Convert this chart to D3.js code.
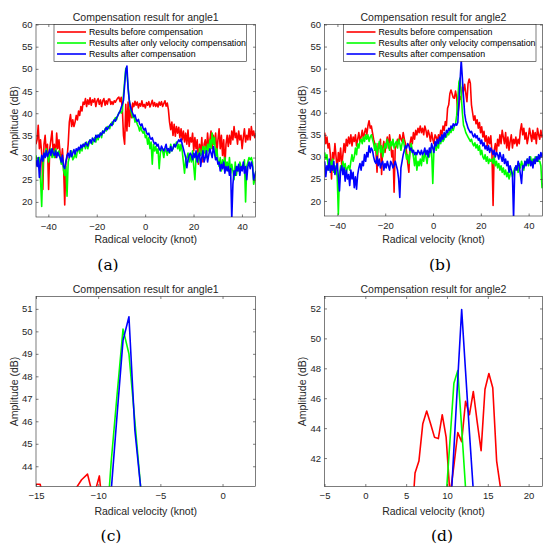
<!DOCTYPE html>
<meta charset="utf-8">
<style>
    body { margin: 0; background: #fff; }
    svg { font-family: "Liberation Sans", Arial, sans-serif; }
    .tick text { fill: #262626; font-size: 9.5px; }
    .tick line { stroke: #262626; stroke-width: 0.6; }
    .lbl { fill: #262626; font-size: 10.5px; }
    .sub { font-family: "DejaVu Serif", "Liberation Serif", serif; font-size: 15.5px; fill: #000; }
    .trace { fill: none; stroke-width: 1.6; stroke-linejoin: round; }
</style>
<svg id="chart"></svg>
<script src="https://cdn.jsdelivr.net/npm/d3@7"></script>
<script>

    // velocity grid: each row of 21 samples spans ~10 knot
    const velStep = 0.476;
    const velStartA = -45.13;   // angle1
    const velStartB = -45.32;   // angle2

    const seriesNames = ["Results before compensation",
        "Results after only velocity compensation",
        "Results after compensation"];
    const seriesColors = ["#ff0000", "#00ff00", "#0000ff"];

    // angle1 spectra (dB)
    const redA = [
        33, 34, 37.3, 32, 34, 31, 22.8, 33, 35, 31, 33, 22.8, 32, 34, 36, 31, 33, 30, 35.5, 32, 34,
        31, 29, 32, 28, 19.3, 29, 30, 33, 38, 39.7, 37, 38.5, 37, 38, 39.5, 38.5, 40.5, 39.5, 41.5, 40.5, 42.5,
        42, 43.3, 41.5, 43, 42, 43.5, 41.8, 43, 42.5, 43.3, 41.5, 42.8, 43.3, 42, 43, 41.5, 42.8, 43.3, 41.8, 42.8, 42,
        43.2, 43.2, 42.0, 42.6, 42.0, 42.8, 42.5, 43.0, 43.4, 43.65, 42.6, 43.57, 41, 35, 33, 42, 36, 42.5, 37, 42, 39,
        42.3, 41.5, 42.7, 41.8, 42.5, 41.2, 42.2, 41.6, 42.8, 41.5, 42.0, 41.2, 42.4, 41.8, 42.6, 41.4, 42.1, 42.9, 41.6, 42.4, 41.5,
        42.2, 41.4, 42.5, 41.8, 42.6, 41.5, 42.2, 42.8, 41.6, 42.3, 40.8, 38, 36.3, 38, 35, 37.5, 34.8, 37, 35.5, 36.8, 34.5,
        36.5, 34, 36, 33.5, 35.5, 33, 36.2, 32.5, 34.5, 33.5, 35.5, 31.5, 34.5, 32, 34, 28.5, 33, 31, 34.5, 29, 33,
        34, 31, 35.5, 32.5, 34, 36, 32, 35, 33, 35.5, 31, 34, 36.5, 32, 35, 30.5, 34, 28, 33, 35, 32.5,
        35, 33, 36, 34, 37, 34.5, 35.5, 33, 36, 34, 35, 32, 34.5, 36.5, 33.5, 35, 34, 36.5, 34, 37, 35,
        36, 34.5, 35.5
    ];
    const greenA = [
        30.5, 29, 28, 30, 25, 19, 28, 30.5, 31, 32, 30.5, 29, 31, 32, 30, 31.5, 30, 32, 31, 30.5, 31.5,
        30, 28.5, 30, 27, 26, 28, 21.3, 29, 30, 30.5, 31.5, 29.5, 30, 31, 30, 31.5, 32, 31, 32.5, 31.5, 33,
        33, 32, 33.5, 32, 33, 34, 33.5, 33, 34, 34.5, 33.5, 35, 34, 35, 35.5, 34.5, 36, 35.5, 36.5, 36, 37,
        37, 36.5, 37.5, 38, 37.5, 38.5, 39, 38.5, 39.5, 40, 40.5, 40, 40.5, 44.2, 47.2, 50.1, 49.0, 46.0, 43.0, 41, 40,
        39, 39.5, 38, 38.5, 37.5, 37, 36, 37, 36, 35.5, 36, 34.5, 35, 33, 34.5, 32, 33.5, 28.5, 33, 31.5, 32.5,
        31, 32, 27.5, 31, 32, 31.5, 30, 32, 31.5, 30.5, 32, 31, 33, 31.5, 32, 33, 32.5, 33.5, 32, 33, 31.5,
        33, 31.5, 29, 26.5, 29.5, 30, 31, 29, 30.5, 29, 31.5, 28, 25, 30, 31, 29, 32, 30.5, 31, 32.5, 31,
        32.5, 30, 33, 31.5, 34, 32, 35.5, 33, 34.5, 30, 32, 29.5, 28, 30, 27, 29.5, 28.5, 30, 28, 29, 27,
        30, 26.5, 28.5, 27, 25, 29, 26, 28, 27, 29, 28, 27.5, 28, 29.5, 20, 28, 29, 30, 29.5, 30, 29,
        24, 25, 27
    ];
    const blueA = [
        29.5, 28, 30, 25.5, 29, 30.5, 29.2, 31, 30, 31.5, 30.2, 31, 31.8, 30.5, 32, 31, 30.5, 31.5, 30, 31.2, 30.5,
        30, 29, 30.5, 28, 27.5, 29, 30.5, 31, 30, 31.5, 30.2, 31, 31.8, 30.8, 32, 31.5, 32.3, 31.8, 32.8, 32.2, 33,
        32.5, 33.4, 33, 32.6, 33.6, 34, 33.2, 34.4, 34, 33.6, 35, 34.5, 35.1, 34.6, 35.5, 35.1, 36, 35.6, 36.2, 36.8, 36.3,
        36.8, 37.2, 37.6, 37.2, 38.1, 38.5, 38.2, 39, 39.4, 40, 40.4, 41.3, 42.0, 42.9, 46.3, 49.6, 50.65, 45.6, 43.0, 41.5, 40.6,
        40, 39.2, 39.6, 38.6, 38.2, 38.6, 37.6, 37.2, 37.6, 36.6, 36.2, 36.6, 35.6, 35.2, 35.5, 34.5, 34.1, 34.5, 33.6, 33.1, 33.4,
        32.6, 33, 32, 31.6, 32.6, 32, 31.5, 32.2, 33, 31.5, 32, 31.2, 32.5, 31.5, 32.1, 33, 32.4, 33, 33.5, 34, 33.6,
        34.2, 33, 32, 31, 30, 27.7, 29.5, 30.5, 31, 30.5, 29.5, 31, 30, 31.5, 29, 30.5, 31, 28, 30, 31.5, 29,
        30, 31.5, 29, 30.5, 32, 31, 30, 32.5, 31, 29.5, 30, 28.5, 29, 27, 28.5, 27.5, 29, 26.5, 28, 27, 28,
        26, 27.5, 16, 24, 27, 26, 28, 27, 28.5, 26, 28, 27, 29, 26.5, 28, 25, 28, 29, 27.5, 29, 28,
        25, 26, 27
    ];

    // angle2 spectra (dB)
    const redB = [
        35.5, 33, 34.5, 32, 33, 30.5, 25, 31, 29.5, 33, 30, 27, 31, 29, 32, 28, 30.5, 33, 31, 34, 32.5,
        34.5, 33, 35, 32.5, 34.5, 33.5, 35, 32.5, 34, 35.5, 33.5, 34.5, 36, 34, 35.5, 36.5, 35, 37, 38.2, 36.5, 37,
        35.5, 34, 33, 31.5, 26.5, 33, 32, 34, 26, 32, 33.5, 31, 33, 34.5, 32, 35, 33, 30, 31.5, 22, 32,
        32.5, 34, 33, 35, 34, 33.5, 35.5, 34, 33, 31, 28.5, 26.5, 33, 34.5, 33, 35.5, 34, 36, 35, 36.5, 35.5,
        37, 35.5, 36.5, 35, 37, 36, 34.5, 36, 35, 33.5, 35.5, 34, 33, 35, 34.5, 33.5, 35, 34, 36, 35, 37,
        36, 38, 37.1, 41.0, 41.8, 44.3, 45.15, 44.3, 43.4, 43.3, 44.9, 43.4, 39.5, 41.5, 43.7, 43.1, 45.8, 44.9, 46.45, 44.4, 42.5,
        46.6, 47.65, 46.7, 41.8, 40.0, 38.3, 39.3, 37.5, 38.4, 36.5, 37.8, 35.5, 36.8, 34.5, 35.8, 33.5, 34.8, 32.5, 34.5, 33, 34.8,
        31, 19, 31.5, 33, 31, 34, 32.5, 35, 33, 36, 34.5, 33, 35.5, 32, 34.5, 31.5, 33.5, 35, 32, 34, 33,
        34.5, 32.5, 34, 33, 36, 37.5, 35, 36.5, 34, 35.5, 33, 34.5, 36.5, 35, 33.5, 36, 34, 35.5, 33, 36.5, 35,
        34, 36, 34.5, 35
    ];
    const greenB = [
        31, 29.5, 30.5, 28, 27, 29, 28, 29.5, 26.5, 28, 27, 25.5, 17, 26, 28, 27, 29, 27.5, 28.5, 26.5, 27.5,
        28, 27, 29, 30.5, 29, 30, 32, 30.5, 33, 32, 33.5, 34, 33, 34.5, 33.5, 35, 34, 35, 33.5, 34.5, 35,
        34, 33, 31.5, 33, 30.5, 32, 33.5, 31, 32.5, 30, 31.5, 33, 32, 34, 33, 31.5, 33.5, 32.5, 34, 32, 33,
        33.5, 32, 34, 33, 31.5, 33, 34, 32.5, 31, 29.5, 30.5, 28.5, 31, 33, 31.5, 30, 28, 30.5, 27, 29, 28,
        29.5, 28, 30.5, 29, 31, 30, 28.5, 31, 30, 32, 31, 24, 31.5, 33, 31.5, 33, 32, 34, 33, 34.5, 33.5,
        34, 35, 34.5, 35.5, 35, 36, 35.5, 36.5, 36, 37, 37.5, 39.4, 43.2, 47.0, 47.85, 44.0, 40.0, 37.2, 36.5, 35.5, 35,
        34.5, 34, 33.5, 34, 33, 32.5, 33.2, 32, 32.8, 31.5, 32.5, 30.5, 31.5, 30, 29.5, 30.5, 29, 30, 28.5, 29.5, 29,
        29.5, 28.5, 30, 28, 29, 27.5, 28.5, 27, 28, 26.5, 27.5, 26, 27, 25.5, 26.5, 25, 26, 27, 25.5, 26.5, 27.5,
        27, 28, 26.5, 28.5, 27.5, 29, 28, 27, 29, 28.5, 29.5, 28, 29, 30, 28.5, 29.5, 28.5, 30, 29, 30, 29,
        29, 28, 23, 24
    ];
    const blueB = [
        29, 25.5, 28, 27, 29.5, 26.5, 28, 27, 29, 26, 27.5, 28.5, 25.5, 22.3, 27, 28, 26, 27.5, 24.5, 27, 25,
        26, 23.5, 27, 25, 26.5, 23, 25.5, 22.7, 26, 27.5, 28.5, 27, 29, 28, 30.5, 29, 31, 30, 32.5, 31, 32,
        31.5, 30, 29, 28.5, 30, 28, 29.5, 27.5, 28.5, 29, 27, 28.5, 27.5, 29, 28, 27, 29, 28.5, 27.5, 28, 29,
        28, 27, 25, 20.8, 27.5, 29, 30.5, 31.5, 32.5, 32, 33, 32.5, 31.5, 32, 31, 31.5, 30.5, 31, 30.5, 31.5, 31,
        30.5, 31.5, 30.5, 31, 32, 30.5, 31.5, 30, 32, 31, 33, 32, 31, 33.5, 32.5, 34, 33, 34.5, 33.5, 35, 34,
        35.5, 34.5, 36, 35.5, 36.5, 36, 37, 36.5, 37.5, 37, 37.5, 37.2, 37.8, 42.6, 47.3, 51.93, 47.8, 43.7, 39.8, 38.2, 37.4,
        36.5, 36, 35.5, 35.8, 35, 34.5, 35.2, 34.3, 34.8, 33.8, 34.2, 33, 33.8, 32.5, 33.2, 31.8, 32.5, 31.5, 32.5, 31, 32,
        31.5, 30.5, 31.5, 30, 31, 30.5, 29.5, 31, 30, 29, 30.5, 28.5, 29.5, 28, 29, 26.5, 28, 27, 26, 16, 27,
        28, 27, 29, 28, 26, 24, 28, 27.5, 29, 28, 29.5, 28.5, 30, 28, 29, 27.5, 29.5, 28.5, 30, 29, 30.5,
        29.5, 31, 30, 31
    ];

    const ticksFullX = [-40, -20, 0, 20, 40];
    const ticksFullY = [20, 25, 30, 35, 40, 45, 50, 55, 60];
    const ticksZoomAX = [-15, -10, -5, 0];
    const ticksZoomAY = [44, 45, 46, 47, 48, 49, 50, 51];
    const ticksZoomBX = [-5, 0, 5, 10, 15, 20];
    const ticksZoomBY = [42, 44, 46, 48, 50, 52];

    const velA = d3.range(redA.length).map(i => velStartA + i * velStep);
    const velB = d3.range(redB.length).map(i => velStartB + i * velStep);

    const svg = d3.select("#chart")
        .attr("width", 550)
        .attr("height", 547);

    svg.append("rect").attr("width", 550).attr("height", 547).attr("fill", "#fff");

    function drawPanel(p) {
        const x = d3.scaleLinear().domain(p.xDom).range([p.left, p.right]);
        const y = d3.scaleLinear().domain(p.yDom).range([p.bottom, p.top]);
        const g = svg.append("g");

        g.append("clipPath").attr("id", "clip" + p.id)
            .append("rect")
            .attr("x", p.left).attr("y", p.top)
            .attr("width", p.right - p.left).attr("height", p.bottom - p.top);

        const line = d3.line()
            .x((d, i) => x(p.vel[i]))
            .y(d => y(d));

        p.series.forEach((s, k) => {
            g.append("path")
                .datum(s)
                .attr("class", "trace")
                .attr("clip-path", "url(#clip" + p.id + ")")
                .attr("stroke", seriesColors[k])
                .attr("d", line);
        });

        // axes, MATLAB style (ticks inside, box)
        g.append("g")
            .attr("transform", "translate(0," + p.bottom + ")")
            .call(d3.axisBottom(x).tickValues(p.xTicks).tickSizeInner(-2.5).tickSizeOuter(0).tickPadding(6))
            .call(a => a.select(".domain").remove());
        g.append("g")
            .attr("transform", "translate(" + p.left + ",0)")
            .call(d3.axisLeft(y).tickValues(p.yTicks).tickSizeInner(-2.5).tickSizeOuter(0).tickPadding(3.5))
            .call(a => a.select(".domain").remove());
        g.append("g")
            .attr("transform", "translate(0," + p.top + ")")
            .call(d3.axisTop(x).tickValues(p.xTicks).tickSizeInner(-2.5).tickSizeOuter(0).tickFormat(""))
            .call(a => a.select(".domain").remove());
        g.append("g")
            .attr("transform", "translate(" + p.right + ",0)")
            .call(d3.axisRight(y).tickValues(p.yTicks).tickSizeInner(-2.5).tickSizeOuter(0).tickFormat(""))
            .call(a => a.select(".domain").remove());
        g.selectAll(".tick text").attr("font-family", null).attr("font-size", null);

        g.append("rect")
            .attr("x", p.left).attr("y", p.top)
            .attr("width", p.right - p.left).attr("height", p.bottom - p.top)
            .attr("fill", "none").attr("stroke", "#262626").attr("stroke-width", 0.6);

        const cx = (p.left + p.right) / 2;
        g.append("text").attr("class", "lbl")
            .attr("x", cx).attr("y", p.top - 4)
            .attr("text-anchor", "middle")
            .text(p.title);
        g.append("text").attr("class", "lbl")
            .attr("x", cx).attr("y", p.bottom + p.xLabelOff)
            .attr("text-anchor", "middle")
            .text("Radical velocity (knot)");
        g.append("text").attr("class", "lbl")
            .attr("transform", "translate(" + (p.left - 22) + "," + ((p.top + p.bottom) / 2) + ") rotate(-90)")
            .attr("dy", "0.35em")
            .attr("text-anchor", "middle")
            .text("Amplitude (dB)");
        g.append("text").attr("class", "sub")
            .attr("x", p.subX).attr("y", p.subY)
            .attr("text-anchor", "middle")
            .text(p.sub);

        if (p.legend) {
            const lg = g.append("g").attr("transform", "translate(" + (p.left + p.legend.dx) + "," + p.top + ")");
            lg.append("rect")
                .attr("width", p.legend.w).attr("height", 37)
                .attr("fill", "#fff").attr("stroke", "#262626").attr("stroke-width", 0.6);
            seriesNames.forEach((n, k) => {
                const yy = 7.5 + k * 11;
                lg.append("line")
                    .attr("x1", 3).attr("x2", 32)
                    .attr("y1", yy).attr("y2", yy)
                    .attr("stroke", seriesColors[k]).attr("stroke-width", 1.6);
                lg.append("text")
                    .attr("x", 35).attr("y", yy).attr("dy", "0.35em")
                    .attr("font-size", "8.8px").attr("fill", "#000")
                    .text(n);
            });
        }
    }

    drawPanel({id: "a", left: 36, right: 255.5, top: 24.5, bottom: 217,
        xDom: [-45.1, 45.6], yDom: [16.6, 60], xTicks: ticksFullX, yTicks: ticksFullY,
        vel: velA, series: [redA, greenA, blueA],
        title: "Compensation result for angle1", sub: "(a)", subX: 108, subY: 270, xLabelOff: 26,
        legend: {dx: 18, w: 192.5}});

    drawPanel({id: "b", left: 324.5, right: 542.5, top: 24.5, bottom: 216,
        xDom: [-45.4, 45.8], yDom: [16.6, 60], xTicks: ticksFullX, yTicks: ticksFullY,
        vel: velB, series: [redB, greenB, blueB],
        title: "Compensation result for angle2", sub: "(b)", subX: 440, subY: 270, xLabelOff: 27,
        legend: {dx: 19, w: 192.5}});

    drawPanel({id: "c", left: 36, right: 255.5, top: 296.5, bottom: 486.5,
        xDom: [-15, 2.65], yDom: [43.1, 51.55], xTicks: ticksZoomAX, yTicks: ticksZoomAY,
        vel: velA, series: [redA, greenA, blueA],
        title: "Compensation result for angle1", sub: "(c)", subX: 111, subY: 541, xLabelOff: 28.5,
        legend: null});

    drawPanel({id: "d", left: 324.5, right: 542.5, top: 296.5, bottom: 486.5,
        xDom: [-5, 21.7], yDom: [40.1, 52.8], xTicks: ticksZoomBX, yTicks: ticksZoomBY,
        vel: velB, series: [redB, greenB, blueB],
        title: "Compensation result for angle2", sub: "(d)", subX: 442, subY: 541, xLabelOff: 28.5,
        legend: null});

</script>
